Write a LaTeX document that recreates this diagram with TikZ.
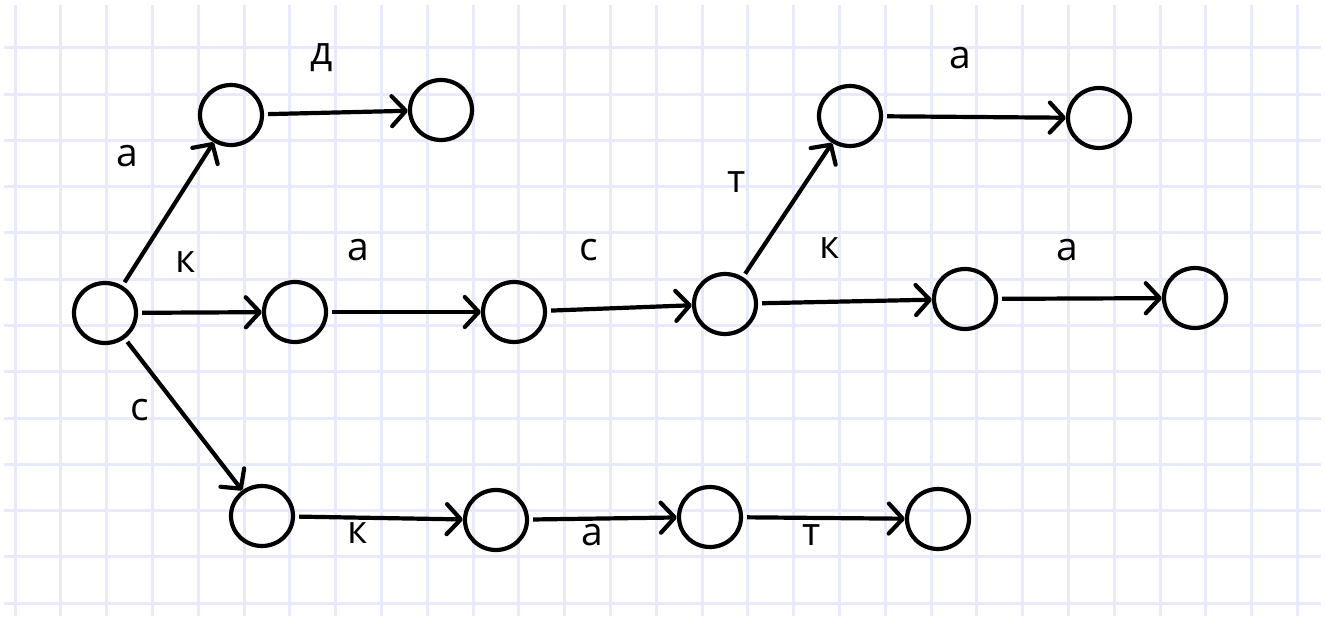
\documentclass[tikz,border=0pt]{standalone}
\usepackage{fontspec}
\setmainfont{Open Sans}
\usetikzlibrary{arrows.meta,shapes.geometric}
\definecolor{gridc}{RGB}{231,234,251}
\tikzset{
  st/.style={draw=black, line width=4.2pt, ellipse, minimum width=62pt, minimum height=60pt, inner sep=0pt},
  ed/.style={line width=4.2pt, -{Straight Barb[length=14pt,width=30pt,line cap=round,line join=round]}, shorten <=4pt},
  lb/.style={font=\fontsize{39}{44}\selectfont, inner sep=0pt}
}
\begin{document}
\begin{tikzpicture}[x=1pt,y=-1pt]
\useasboundingbox (0,0) rectangle (1325,620);
\fill[white] (0,0) rectangle (1325,620);
% grid
\foreach \k in {0,...,28} {
  \draw[gridc, line width=3pt] ({15+45.8*\k},5) -- ({15+45.8*\k},616);
}
\foreach \k in {0,...,12} {
  \draw[gridc, line width=3pt] (4,{48+46.25*\k}) -- (1321,{48+46.25*\k});
}
% states
\node[st] (s)  at (105,313) {};
\node[st] (a1) at (231,115) {};
\node[st] (a2) at (441,110) {};
\node[st] (k1) at (295,312) {};
\node[st] (k2) at (514,312) {};
\node[st] (k3) at (725,304) {};
\node[st] (t1) at (850,116) {};
\node[st] (t2) at (1099,118) {};
\node[st] (k4) at (965,299) {};
\node[st] (k5) at (1195,298) {};
\node[st] (c1) at (262,516) {};
\node[st] (c2) at (496,520) {};
\node[st] (c3) at (710,517) {};
\node[st] (c4) at (938,519) {};
% edges
\draw[ed] (s) -- (a1);
\draw[ed] (a1) -- (a2);
\draw[ed] (s) -- (k1);
\draw[ed] (k1) -- (k2);
\draw[ed] (k2) -- (k3);
\draw[ed] (k3) -- (t1);
\draw[ed] (t1) -- (t2);
\draw[ed] (k3) -- (k4);
\draw[ed] (k4) -- (k5);
\draw[ed] (s) -- (c1);
\draw[ed] (c1) -- (c2);
\draw[ed] (c2) -- (c3);
\draw[ed] (c3) -- (c4);
% labels
\node[lb] (l1) at (127,156) {а};
\node[lb] (l2) at (322,58) {д};
\node[lb] (l3) at (186,262) {к};
\node[lb] (l4) at (358,250) {а};
\node[lb] (l5) at (589,250) {с};
\node[lb] (l6) at (737,182) {т};
\node[lb] (l7) at (960,58) {а};
\node[lb] (l8) at (830,248) {к};
\node[lb] (l9) at (1067,250) {а};
\node[lb] (l10) at (140,410) {с};
\node[lb] (l11) at (358,533) {к};
\node[lb] (l12) at (592,535) {а};
\node[lb] (l13) at (812,535) {т};
\end{tikzpicture}
\end{document}
